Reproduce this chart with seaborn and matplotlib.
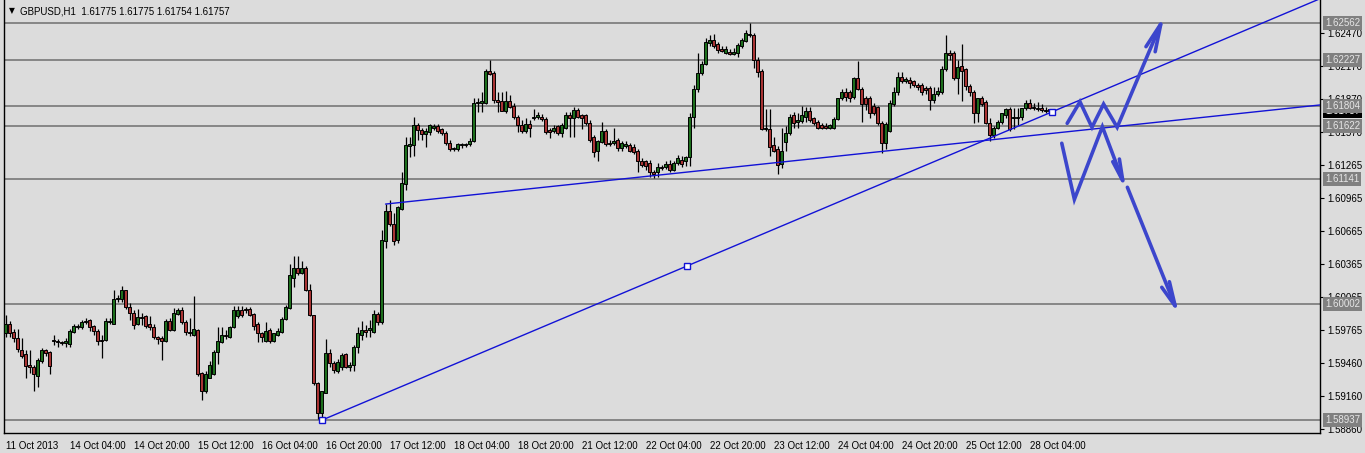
import numpy as np
import pandas as pd
import matplotlib
matplotlib.use("Agg")
import matplotlib.pyplot as plt
import matplotlib.transforms as mtransforms
import seaborn as sns

# ---------------- data (GBPUSD H1) ----------------
opens = [
    1.5973, 1.5982, 1.5974, 1.5969, 1.5958, 1.5954, 1.5944, 1.5942, 1.5934, 1.5948,
    1.5958, 1.5956, 1.5967, 1.5966, 1.5965, 1.5964, 1.5963, 1.5974, 1.5980, 1.5979,
    1.5983, 1.5985, 1.5980, 1.5975, 1.5967, 1.5967, 1.5983, 1.5982, 1.6004, 1.6004,
    1.6013, 1.5997, 1.5992, 1.5982, 1.5988, 1.5989, 1.5982, 1.5979, 1.5970, 1.5969,
    1.5966, 1.5984, 1.5976, 1.5991, 1.5994, 1.5983, 1.5974, 1.5972, 1.5976, 1.5937,
    1.5920, 1.5932, 1.5936, 1.5956, 1.5965, 1.5972, 1.5970, 1.5979, 1.5989, 1.5994,
    1.5995, 1.5995, 1.5991, 1.5982, 1.5973, 1.5966, 1.5976, 1.5966, 1.5972, 1.5974,
    1.5986, 1.5996, 1.6024, 1.6033, 1.6028, 1.6033, 1.6013, 1.5990, 1.5928, 1.5900,
    1.5919, 1.5955, 1.5946, 1.5939, 1.5942, 1.5954, 1.5942, 1.5944, 1.5961, 1.5972,
    1.5976, 1.5976, 1.5974, 1.5991, 1.5983, 1.6057, 1.6085, 1.6073, 1.6058, 1.6087,
    1.6109, 1.6144, 1.6145, 1.6163, 1.6159, 1.6155, 1.6157, 1.6161, 1.6162, 1.6160,
    1.6156, 1.6147, 1.6141, 1.6141, 1.6145, 1.6145, 1.6146, 1.6149, 1.6183, 1.6183,
    1.6183, 1.6213, 1.6211, 1.6186, 1.6185, 1.6176, 1.6185, 1.6181, 1.6171, 1.6163,
    1.6158, 1.6164, 1.6170, 1.6171, 1.6171, 1.6169, 1.6159, 1.6158, 1.6162, 1.6156,
    1.6161, 1.6172, 1.6170, 1.6177, 1.6172, 1.6172, 1.6165, 1.6152, 1.6140, 1.6148,
    1.6158, 1.6147, 1.6147, 1.6150, 1.6142, 1.6144, 1.6145, 1.6143, 1.6140, 1.6130,
    1.6130, 1.6129, 1.6120, 1.6120, 1.6125, 1.6125, 1.6128, 1.6122, 1.6129, 1.6131,
    1.6130, 1.6134, 1.6171, 1.6196, 1.6211, 1.6219, 1.6238, 1.6241, 1.6237, 1.6233,
    1.6229, 1.6230, 1.6228, 1.6229, 1.6235, 1.6240, 1.6245, 1.6245, 1.6223, 1.6213,
    1.6160, 1.6160, 1.6145, 1.6141, 1.6128, 1.6148, 1.6156, 1.6172, 1.6166, 1.6167,
    1.6171, 1.6176, 1.6170, 1.6166, 1.6163, 1.6162, 1.6161, 1.6161, 1.6169, 1.6188,
    1.6193, 1.6193, 1.6189, 1.6206, 1.6196, 1.6188, 1.6188, 1.6181, 1.6180, 1.6165,
    1.6147, 1.6158, 1.6182, 1.6193, 1.6207, 1.6203, 1.6204, 1.6203, 1.6200, 1.6200,
    1.6197, 1.6197, 1.6186, 1.6192, 1.6193, 1.6214, 1.6229, 1.6229, 1.6206, 1.6217,
    1.6214, 1.6199, 1.6193, 1.6174, 1.6188, 1.6184, 1.6165, 1.6154, 1.6161, 1.6166,
    1.6172, 1.6178, 1.6170, 1.6171, 1.6171, 1.6179, 1.6183, 1.6180, 1.6179, 1.6179,
    1.6177, 1.61775,
]
highs = [
    1.5990, 1.5984, 1.5977, 1.5977, 1.5969, 1.5958, 1.5958, 1.5944, 1.5951, 1.5960,
    1.5959, 1.5957, 1.5972, 1.5968, 1.5966, 1.5969, 1.5977, 1.5982, 1.5982, 1.5985,
    1.5987, 1.5986, 1.5981, 1.5977, 1.5972, 1.5987, 1.5987, 1.6013, 1.6008, 1.6016,
    1.6013, 1.6001, 1.5994, 1.5995, 1.5992, 1.5990, 1.5989, 1.5982, 1.5971, 1.5971,
    1.5986, 1.5987, 1.5996, 1.5996, 1.5997, 1.5985, 1.5987, 1.6007, 1.5977, 1.5938,
    1.5939, 1.5948, 1.5958, 1.5979, 1.5979, 1.5976, 1.5980, 1.5998, 1.5998, 1.5998,
    1.5997, 1.5997, 1.5992, 1.5983, 1.5974, 1.5983, 1.5978, 1.5973, 1.5978, 1.5988,
    1.5999, 1.6036, 1.6044, 1.6044, 1.6039, 1.6035, 1.6018, 1.5990, 1.5929, 1.5920,
    1.5968, 1.5959, 1.5948, 1.5950, 1.5955, 1.5955, 1.5947, 1.5962, 1.5979, 1.5984,
    1.5981, 1.5985, 1.5994, 1.5993, 1.6067, 1.6091, 1.6095, 1.6083, 1.6089, 1.6120,
    1.6152, 1.6152, 1.6171, 1.6165, 1.6161, 1.6161, 1.6164, 1.6164, 1.6164, 1.6161,
    1.6158, 1.6150, 1.6143, 1.6147, 1.6147, 1.6147, 1.6151, 1.6188, 1.6188, 1.6193,
    1.6214, 1.62227, 1.6213, 1.6193, 1.6193, 1.6194, 1.6191, 1.6183, 1.6172, 1.6168,
    1.6170, 1.6168, 1.6178, 1.6175, 1.6173, 1.6171, 1.6161, 1.6163, 1.6163, 1.6165,
    1.6175, 1.6175, 1.6180, 1.6179, 1.6173, 1.6173, 1.6168, 1.6154, 1.6150, 1.6166,
    1.6160, 1.6150, 1.6161, 1.6151, 1.6149, 1.6149, 1.6147, 1.6146, 1.6141, 1.6133,
    1.6131, 1.6131, 1.6122, 1.6129, 1.6127, 1.6130, 1.6131, 1.6130, 1.6136, 1.6135,
    1.6135, 1.6174, 1.6200, 1.6229, 1.6222, 1.6243, 1.6245, 1.6246, 1.6239, 1.6235,
    1.6235, 1.6233, 1.6234, 1.6238, 1.6243, 1.6250, 1.62562, 1.6247, 1.6225, 1.6214,
    1.6178, 1.6178, 1.6152, 1.6144, 1.6161, 1.6162, 1.6173, 1.6175, 1.6174, 1.6181,
    1.6180, 1.6180, 1.6171, 1.6168, 1.6165, 1.6165, 1.6164, 1.6171, 1.6188, 1.6196,
    1.6197, 1.6195, 1.6207, 1.6222, 1.6198, 1.6190, 1.6190, 1.6183, 1.6181, 1.6167,
    1.6166, 1.6186, 1.6198, 1.6212, 1.6212, 1.6207, 1.6207, 1.6204, 1.6202, 1.6202,
    1.6199, 1.6199, 1.6198, 1.6198, 1.6217, 1.6245, 1.6232, 1.6231, 1.6223, 1.6237,
    1.6215, 1.6201, 1.6195, 1.6188, 1.6190, 1.6186, 1.6170, 1.6162, 1.6168, 1.6174,
    1.6179, 1.6180, 1.6179, 1.6179, 1.6179, 1.6186, 1.6187, 1.6183, 1.6184, 1.6182,
    1.6180, 1.61775,
]
lows = [
    1.5970, 1.5970, 1.5965, 1.5956, 1.5951, 1.5932, 1.5937, 1.5920, 1.5924, 1.5946,
    1.5952, 1.5936, 1.5962, 1.5961, 1.5962, 1.5961, 1.5961, 1.5973, 1.5977, 1.5977,
    1.5982, 1.5975, 1.5972, 1.5962, 1.5951, 1.5966, 1.5982, 1.5982, 1.6002, 1.6002,
    1.5995, 1.5985, 1.5977, 1.5981, 1.5981, 1.5978, 1.5976, 1.5968, 1.5963, 1.5949,
    1.5965, 1.5975, 1.5975, 1.5990, 1.5982, 1.5972, 1.5971, 1.5971, 1.5934, 1.5912,
    1.5919, 1.5932, 1.5935, 1.5945, 1.5964, 1.5968, 1.5969, 1.5978, 1.5987, 1.5988,
    1.5992, 1.5989, 1.5976, 1.5965, 1.5965, 1.5965, 1.5964, 1.5965, 1.5971, 1.5973,
    1.5985, 1.5995, 1.6015, 1.6026, 1.6027, 1.6012, 1.5989, 1.5926, 1.5895, 1.58937,
    1.5919, 1.5942, 1.5937, 1.5937, 1.5940, 1.5941, 1.5939, 1.5939, 1.5955, 1.5967,
    1.5970, 1.5970, 1.5973, 1.5981, 1.5982, 1.6051, 1.6071, 1.6054, 1.6056, 1.6086,
    1.6104, 1.6134, 1.6135, 1.6150, 1.6150, 1.6143, 1.6154, 1.6159, 1.6156, 1.6154,
    1.6145, 1.6140, 1.6140, 1.6140, 1.6142, 1.6143, 1.6144, 1.6148, 1.6175, 1.6175,
    1.6182, 1.6209, 1.6183, 1.6175, 1.6176, 1.6174, 1.6179, 1.6169, 1.6157, 1.6156,
    1.6156, 1.6152, 1.6168, 1.6169, 1.6167, 1.6155, 1.6151, 1.6156, 1.6154, 1.6152,
    1.6160, 1.6152, 1.6152, 1.6170, 1.6160, 1.6163, 1.6148, 1.6134, 1.6130, 1.6147,
    1.6144, 1.6144, 1.6145, 1.6140, 1.6140, 1.6142, 1.6139, 1.6137, 1.6120, 1.6125,
    1.6122, 1.6116, 1.6115, 1.6116, 1.6122, 1.6123, 1.6120, 1.6121, 1.6127, 1.6125,
    1.6126, 1.6126, 1.6161, 1.6193, 1.6209, 1.6218, 1.6235, 1.6234, 1.6229, 1.6230,
    1.6228, 1.6227, 1.6227, 1.6225, 1.6234, 1.6239, 1.6244, 1.6215, 1.6207, 1.6159,
    1.6158, 1.6135, 1.6139, 1.6119, 1.6124, 1.6140, 1.6154, 1.6161, 1.6161, 1.6165,
    1.6166, 1.6166, 1.6163, 1.6160, 1.6160, 1.6160, 1.6160, 1.6160, 1.6168, 1.6186,
    1.6185, 1.6184, 1.6187, 1.6195, 1.6166, 1.6177, 1.6170, 1.6172, 1.6163, 1.6138,
    1.6141, 1.6157, 1.6181, 1.6191, 1.6202, 1.6202, 1.6197, 1.6198, 1.6195, 1.6191,
    1.6192, 1.6177, 1.6183, 1.6190, 1.6192, 1.6213, 1.6223, 1.6204, 1.6192, 1.6185,
    1.6195, 1.6190, 1.6165, 1.6166, 1.6181, 1.6164, 1.6149, 1.6151, 1.6160, 1.6164,
    1.6170, 1.6158, 1.6160, 1.6163, 1.6168, 1.6177, 1.6178, 1.6177, 1.6176, 1.6175,
    1.6174, 1.61754,
]
closes = [
    1.5982, 1.5973, 1.5969, 1.5959, 1.5952, 1.5943, 1.5942, 1.5936, 1.5949, 1.5958,
    1.5955, 1.5943, 1.5966, 1.5965, 1.5964, 1.5966, 1.5975, 1.5980, 1.5979, 1.5983,
    1.5984, 1.5979, 1.5975, 1.5966, 1.5966, 1.5984, 1.5984, 1.6004, 1.6005, 1.6013,
    1.5997, 1.5992, 1.5981, 1.5988, 1.5987, 1.5980, 1.5979, 1.5970, 1.5968, 1.5966,
    1.5984, 1.5976, 1.5992, 1.5994, 1.5983, 1.5974, 1.5973, 1.5977, 1.5936, 1.5920,
    1.5936, 1.5944, 1.5956, 1.5966, 1.5972, 1.5971, 1.5979, 1.5994, 1.5994, 1.5990,
    1.5994, 1.5990, 1.5980, 1.5973, 1.5970, 1.5975, 1.5966, 1.5973, 1.5975, 1.5986,
    1.5997, 1.6026, 1.6033, 1.6028, 1.6033, 1.6013, 1.5990, 1.5928, 1.5900, 1.5920,
    1.5955, 1.5946, 1.5940, 1.5947, 1.5953, 1.5942, 1.5944, 1.5961, 1.5973, 1.5976,
    1.5974, 1.5978, 1.5991, 1.5983, 1.6058, 1.6085, 1.6073, 1.6057, 1.6088, 1.6110,
    1.6145, 1.6146, 1.6163, 1.6159, 1.6155, 1.6158, 1.6163, 1.6162, 1.6158, 1.6156,
    1.6147, 1.6141, 1.6142, 1.6146, 1.6146, 1.6146, 1.6149, 1.6183, 1.6184, 1.6185,
    1.6213, 1.6210, 1.6186, 1.6184, 1.6176, 1.6185, 1.6180, 1.6171, 1.6163, 1.6158,
    1.6164, 1.6161, 1.6171, 1.6172, 1.6169, 1.6157, 1.6157, 1.6161, 1.6156, 1.6163,
    1.6172, 1.6170, 1.6177, 1.6171, 1.6170, 1.6165, 1.6150, 1.6139, 1.6149, 1.6158,
    1.6146, 1.6146, 1.6149, 1.6142, 1.6147, 1.6146, 1.6140, 1.6139, 1.6130, 1.6127,
    1.6126, 1.6120, 1.6119, 1.6125, 1.6124, 1.6128, 1.6122, 1.6129, 1.6133, 1.6128,
    1.6134, 1.6171, 1.6196, 1.6211, 1.6219, 1.6239, 1.6241, 1.6235, 1.6232, 1.6231,
    1.6233, 1.6228, 1.6230, 1.6236, 1.6241, 1.6247, 1.6246, 1.6223, 1.6212, 1.6160,
    1.6161, 1.6143, 1.6140, 1.6127, 1.6140, 1.6156, 1.6171, 1.6165, 1.6168, 1.6172,
    1.6176, 1.6168, 1.6165, 1.6161, 1.6161, 1.6161, 1.6163, 1.6169, 1.6188, 1.6193,
    1.6189, 1.6188, 1.6206, 1.6196, 1.6182, 1.6182, 1.6174, 1.6174, 1.6165, 1.6147,
    1.6164, 1.6183, 1.6193, 1.6207, 1.6203, 1.6205, 1.6202, 1.6200, 1.6198, 1.6193,
    1.6195, 1.6186, 1.6192, 1.6194, 1.6214, 1.6229, 1.6227, 1.6206, 1.6216, 1.6213,
    1.6199, 1.6193, 1.6174, 1.6188, 1.6182, 1.6165, 1.6154, 1.6161, 1.6166, 1.6174,
    1.6178, 1.6160, 1.6171, 1.6170, 1.6179, 1.6183, 1.6179, 1.6179, 1.6178, 1.6177,
    1.6176, 1.61757,
]

x_tick_bars = [0, 16, 32, 48, 64, 80, 96, 112, 128, 144, 160, 176, 192, 208, 224, 240, 256]
x_tick_labels = ["11 Oct 2013", "14 Oct 04:00", "14 Oct 20:00", "15 Oct 12:00",
                 "16 Oct 04:00", "16 Oct 20:00", "17 Oct 12:00", "18 Oct 04:00",
                 "18 Oct 20:00", "21 Oct 12:00", "22 Oct 04:00", "22 Oct 20:00",
                 "23 Oct 12:00", "24 Oct 04:00", "24 Oct 20:00", "25 Oct 12:00",
                 "28 Oct 04:00"]
y_tick_values = [1.62470, 1.62170, 1.61870, 1.61570, 1.61265, 1.60965, 1.60665,
                 1.60365, 1.60065, 1.59765, 1.59460, 1.59160, 1.58860]
level_prices = [1.62562, 1.62227, 1.61804, 1.61622, 1.61141, 1.60002, 1.58937]
current_price = 1.61757
title_text = "GBPUSD,H1  1.61775 1.61775 1.61754 1.61757"

# trend lines: two anchor points each (bar index, price), drawn as rays to the right
trend1_bars = [79, 261.5]
trend1_prices = [1.58937, 1.61751]
trend2_bars = [95, 245]
trend2_prices = [1.60911, 1.61492]

# hand-drawn forecast arrows (bar index, price)
up_path_bars = [265.4, 268.6, 271.6, 274.5, 277.9, 288.8]
up_path_prices = [1.61648, 1.61845, 1.61612, 1.61824, 1.61612, 1.62555]
up_head_bars = [285.1, 288.8, 287.4]
up_head_prices = [1.62348, 1.62555, 1.62302]
down1_path_bars = [264.05, 267.2, 274.2, 279.3]
down1_path_prices = [1.61466, 1.60954, 1.61617, 1.61124]
down1_head_bars = [276.8, 279.3, 278.45]
down1_head_prices = [1.61298, 1.61124, 1.61322]
down2_path_bars = [280.45, 292.4]
down2_path_prices = [1.61064, 1.59980]
down2_head_bars = [289.05, 292.4, 290.95]
down2_head_prices = [1.60151, 1.59980, 1.60202]

# ---------------- style ----------------
BG = "#dcdcdc"
sns.set_style("white", rc={"axes.facecolor": BG, "figure.facecolor": BG})
plt.rcParams["font.family"] = ["Liberation Sans", "DejaVu Sans"]

W, H = 1365, 453
fig = plt.figure(figsize=(W / 100, H / 100), dpi=100, facecolor=BG)
left_px, right_px, top_px, bottom_px = 4, 1320, 0, 433
ax = fig.add_axes([left_px / W, (H - bottom_px) / H, (right_px - left_px) / W, (bottom_px - top_px) / H])
ax.set_facecolor(BG)

XMIN, XMAX = -0.375, 328.6
YMIN, YMAX = 1.58821, 1.62774
ax.set_xlim(XMIN, XMAX)
ax.set_ylim(YMIN, YMAX)

df = pd.DataFrame({"o": opens, "h": highs, "l": lows, "c": closes})
df["bar"] = np.arange(len(df))

# horizontal price levels
for p in level_prices:
    ax.axhline(p, color="#808080", lw=1.3, zorder=1)

# candles
bull = df["c"] >= df["o"]
ax.vlines(df["bar"], df["l"], df["h"], color="black", lw=0.9, zorder=3)
body_bottom = np.minimum(df["o"], df["c"])
body_height = np.maximum(np.abs(df["c"] - df["o"]), 0.00002)
ax.bar(df["bar"], body_height, bottom=body_bottom, width=0.62,
       color=np.where(bull, "#1d6f1d", "#a83434"), edgecolor="black",
       linewidth=0.7, zorder=4)

# trend lines (rays)
BLUE = "#1212d6"
for bars, prices in [(trend1_bars, trend1_prices), (trend2_bars, trend2_prices)]:
    slope = (prices[1] - prices[0]) / (bars[1] - bars[0])
    xs = [bars[0], XMAX + 5]
    ys = [prices[0], prices[0] + slope * (XMAX + 5 - bars[0])]
    sns.lineplot(x=xs, y=ys, ax=ax, color=BLUE, lw=1.0, sort=False,
                 estimator=None, zorder=5)
mid_bar = (trend1_bars[0] + trend1_bars[1]) / 2
mid_price = (trend1_prices[0] + trend1_prices[1]) / 2
ax.plot([trend1_bars[0], mid_bar, trend1_bars[1]],
        [trend1_prices[0], mid_price, trend1_prices[1]], ls="none",
        marker="s", ms=4.2, mfc="white", mec=BLUE, mew=1.0, zorder=6)

# forecast arrows
ARROW = "#3c46cc"
for bx, py in [(up_path_bars, up_path_prices), (up_head_bars, up_head_prices),
               (down1_path_bars, down1_path_prices), (down1_head_bars, down1_head_prices),
               (down2_path_bars, down2_path_prices), (down2_head_bars, down2_head_prices)]:
    sns.lineplot(x=bx, y=py, ax=ax, color=ARROW, lw=2.6, sort=False,
                 estimator=None, zorder=7)
for line in ax.get_lines():
    line.set_solid_joinstyle("miter")

# axes / ticks
for s in ["top"]:
    ax.spines[s].set_visible(False)
for s in ["left", "bottom", "right"]:
    ax.spines[s].set_visible(True)
    ax.spines[s].set_color("black")
    ax.spines[s].set_linewidth(1.0)

ax.yaxis.tick_right()
ax.set_yticks(y_tick_values)
ax.set_yticklabels([f"{v:.5f}" for v in y_tick_values])
ax.tick_params(axis="y", which="both", length=3, width=0.8, pad=2.5,
               labelsize=7, colors="black", direction="out", left=False)
ax.set_xticks(x_tick_bars)
ax.set_xticklabels(x_tick_labels)
for lab in ax.get_xticklabels():
    lab.set_horizontalalignment("left")
ax.tick_params(axis="x", length=4, width=0.8, pad=1.5, labelsize=7,
               colors="black", direction="out")
ax.set_xlabel("")
ax.set_ylabel("")
ax.grid(False)

# price-level labels on the right scale
trans = mtransforms.blended_transform_factory(ax.transAxes, ax.transData)
lab_x = 1.0038
ax.text(lab_x, current_price, f"{current_price:.5f}", transform=trans,
        va="center", ha="left", fontsize=7, color="white", zorder=9,
        clip_on=False, bbox=dict(boxstyle="square,pad=0.2", fc="black", ec="none"))
for p in level_prices:
    ax.text(lab_x, p, f"{p:.5f}", transform=trans, va="center", ha="left",
            fontsize=7, color="#e6e6e6", zorder=10, clip_on=False,
            bbox=dict(boxstyle="square,pad=0.2", fc="#808080", ec="none"))

# title
fig.text(9 / W, 1 - 11 / H, "\u25BC", fontsize=5.5, family="DejaVu Sans",
         va="center", ha="left", color="black")
fig.text(20 / W, 1 - 11 / H, title_text, fontsize=7, va="center", ha="left",
         color="black")

fig.savefig("out.png", dpi=100, facecolor=BG)
